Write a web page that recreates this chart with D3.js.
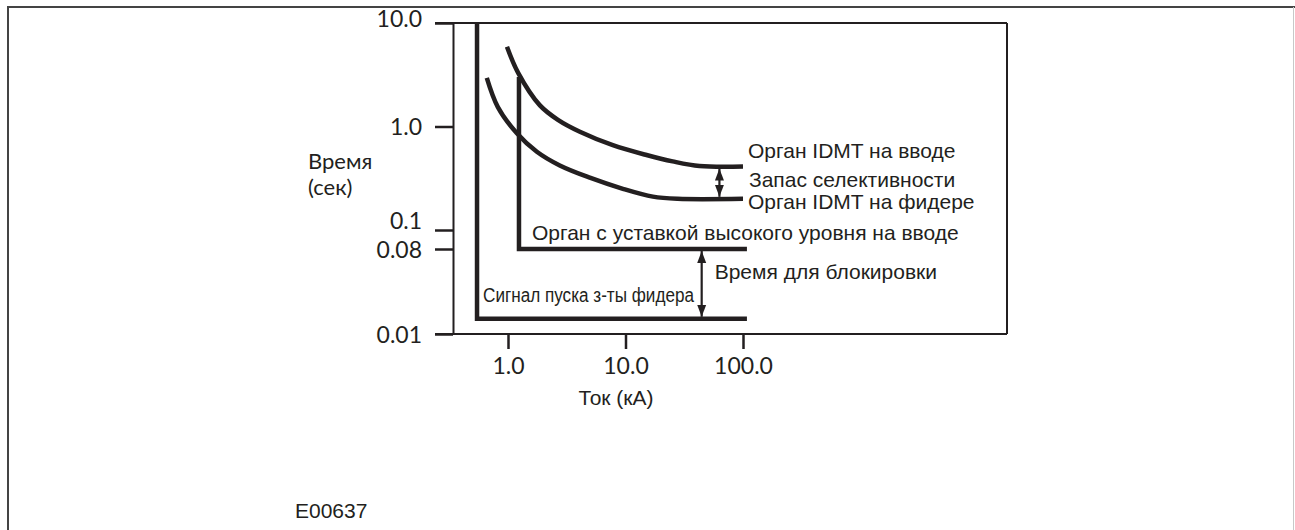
<!DOCTYPE html>
<html><head><meta charset="utf-8">
<script src="https://cdn.jsdelivr.net/npm/d3@7"></script>
<style>
html,body{margin:0;padding:0;background:#fff;}
svg{display:block;}
.tick text{font-family:Lato, "Open Sans", sans-serif;font-size:23px;fill:#231f20;}
.ann{font-family:"Liberation Sans", Arial, sans-serif;font-size:21px;fill:#231f20;}
.narrow{font-family:"Liberation Sans Narrow", "Liberation Sans", sans-serif;font-size:20px;fill:#231f20;}
.axl{font-family:Lato, "Open Sans", sans-serif;font-size:22px;fill:#231f20;}
</style></head>
<body>
<script>
// ---- data ----
const yTickValues = [10, 1, 0.1, 0.08, 0.01];
const yTickLabels = ["10.0", "1.0", "0.1", "0.08", "0.01"];
const xTickValues = [1, 10, 100];
const xTickLabels = ["1.0", "10.0", "100.0"];

// IDMT curve of incomer: current (kA), time (s)
const incomerI = [0.98, 1.22, 1.87, 2.66, 4.09, 7.8, 15.1, 25.2, 42.7, 100];
const incomerT = [5.9, 3.3, 1.6, 1.16, 0.89, 0.66, 0.53, 0.46, 0.415, 0.41];
// IDMT curve of feeder
const feederI = [0.66, 0.82, 1.19, 1.76, 2.76, 4.97, 9.5, 17.1, 27.8, 100];
const feederT = [2.95, 1.54, 0.86, 0.57, 0.42, 0.32, 0.25, 0.21, 0.20, 0.20];
// High-set element of incomer
const highSetI = [1.24, 1.24, 108];
const highSetT = [3.0, 0.08, 0.08];
// Feeder start signal
const startI = [0.545, 0.545, 108];
const startT = [10, 0.0145, 0.0145];
// Arrows: [current, t1, t2]
const marginArrow = [63, 0.41, 0.20];
const blockArrow = [44.5, 0.08, 0.0145];

const W = 1295, H = 530;
const svg = d3.select("body").append("svg").attr("width", W).attr("height", H);

// layout
const plotL = 453, plotR = 1007, plotT = 23, plotB = 334;

const x = d3.scaleLog().domain([1, 100]).range([508, 743]);
const yl = d3.scaleLinear()
  .domain([Math.log10(0.01), Math.log10(0.08), Math.log10(0.1), Math.log10(10)])
  .range([plotB, 249, 230, plotT]);
const y = v => yl(Math.log10(v));

const ink = "#231f20";

// outer frame
svg.append("line").attr("x1", 8).attr("x2", W).attr("y1", 7).attr("y2", 7).attr("stroke", "#444").attr("stroke-width", 2);
svg.append("line").attr("x1", 8).attr("x2", 8).attr("y1", 6).attr("y2", H).attr("stroke", "#444").attr("stroke-width", 2);
svg.append("line").attr("x1", W - 1.5).attr("x2", W - 1.5).attr("y1", 7).attr("y2", H).attr("stroke", "#c8c8c8").attr("stroke-width", 1);

// y axis
const yAxis = d3.axisLeft(yl)
  .tickValues(yTickValues.map(v => Math.log10(v)))
  .tickFormat((d, i) => yTickLabels[i])
  .tickSize(18).tickSizeOuter(0).tickPadding(13);
const gy = svg.append("g").attr("transform", `translate(${plotL},0)`).call(yAxis);
gy.select(".domain").attr("stroke", ink).attr("stroke-width", 2);
gy.selectAll(".tick line").attr("stroke", ink).attr("stroke-width", 2.5);
gy.selectAll(".tick text").attr("dy", (d, i) => (yTickLabels[i] === "0.1" ? "-0.08em" : (yTickLabels[i] === "10.0" ? "0.15em" : "0.35em")));

// x axis
const xAxis = d3.axisBottom(x)
  .tickValues(xTickValues)
  .tickFormat((d, i) => xTickLabels[i])
  .tickSize(15).tickSizeOuter(0).tickPadding(9);
const gx = svg.append("g").attr("transform", `translate(0,${plotB})`).call(xAxis);
gx.select(".domain").remove();
gx.selectAll(".tick line").attr("stroke", ink).attr("stroke-width", 2.5);

// box lines
const box = svg.append("g").attr("stroke", ink).attr("stroke-width", 2).attr("fill", "none");
box.append("line").attr("x1", 435).attr("x2", plotR).attr("y1", plotB).attr("y2", plotB);
box.append("line").attr("x1", 435).attr("x2", plotR).attr("y1", plotT).attr("y2", plotT);
box.append("line").attr("x1", plotR).attr("x2", plotR).attr("y1", plotT).attr("y2", plotB);

// axis titles
svg.append("text").attr("class", "axl").attr("x", 308).attr("y", 169).text("Время");
svg.append("text").attr("class", "axl").attr("x", 308).attr("y", 195).text("(сек)");
svg.append("text").attr("class", "ann").attr("x", 616).attr("y", 405).attr("text-anchor", "middle").text("Ток (кА)");
svg.append("text").attr("class", "ann").attr("x", 295).attr("y", 518).text("E00637");

// curves
const zip = (a, b) => a.map((v, i) => [v, b[i]]);
const smooth = d3.line().x(d => x(d[0])).y(d => y(d[1])).curve(d3.curveCatmullRom.alpha(0.5));
const straight = d3.line().x(d => x(d[0])).y(d => y(d[1]));

svg.append("path").attr("d", smooth(zip(incomerI, incomerT)))
  .attr("fill", "none").attr("stroke", ink).attr("stroke-width", 4.5);
svg.append("path").attr("d", smooth(zip(feederI, feederT)))
  .attr("fill", "none").attr("stroke", ink).attr("stroke-width", 4.5);
svg.append("path").attr("d", straight(zip(highSetI, highSetT)))
  .attr("fill", "none").attr("stroke", ink).attr("stroke-width", 4.5).attr("stroke-linejoin", "miter");
svg.append("path").attr("d", straight(zip(startI, startT)))
  .attr("fill", "none").attr("stroke", ink).attr("stroke-width", 4.5).attr("stroke-linejoin", "miter");

// arrow marker
const defs = svg.append("defs");
defs.append("marker").attr("id", "ah")
  .attr("refX", 12).attr("refY", 5).attr("markerWidth", 12).attr("markerHeight", 10)
  .attr("viewBox", "0 0 12 10")
  .attr("markerUnits", "userSpaceOnUse").attr("orient", "auto-start-reverse")
  .append("path").attr("d", "M0,0.5 L12,5 L0,9.5 Z").attr("fill", ink);

function dblArrow(a) {
  svg.append("line").attr("x1", x(a[0])).attr("x2", x(a[0]))
    .attr("y1", y(a[1]) + 2).attr("y2", y(a[2]) - 2)
    .attr("stroke", ink).attr("stroke-width", 2.2)
    .attr("marker-start", "url(#ah)").attr("marker-end", "url(#ah)");
}
dblArrow(marginArrow);
dblArrow(blockArrow);

// annotations
svg.append("text").attr("class", "ann").attr("x", x(100) + 5).attr("y", y(0.41) - 9).text("Орган IDMT на вводе");
svg.append("text").attr("class", "ann").attr("x", x(100) + 6).attr("y", y(0.20) - 12).text("Запас селективности");
svg.append("text").attr("class", "ann").attr("x", x(100) + 5).attr("y", y(0.20) + 10).text("Орган IDMT на фидере");
svg.append("text").attr("class", "ann").attr("x", x(1.24) + 13).attr("y", y(0.08) - 9).text("Орган с уставкой высокого уровня на вводе");
svg.append("text").attr("class", "ann").attr("x", x(44.5) + 13).attr("y", 279).text("Время для блокировки");
svg.append("text").attr("class", "narrow").attr("x", x(0.545) + 6).attr("y", y(0.0145) - 17)
  .attr("textLength", 211).attr("lengthAdjust", "spacingAndGlyphs").text("Сигнал пуска з-ты фидера");
</script>
</body></html>
